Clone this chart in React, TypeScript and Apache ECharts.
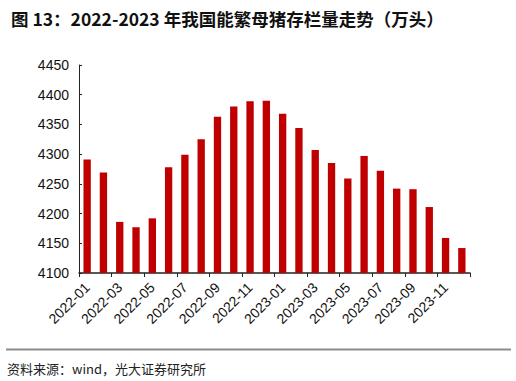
import React, { useEffect, useRef } from "react";
import * as echarts from "echarts";

const categories = [
  "2022-01", "2022-02", "2022-03", "2022-04", "2022-05", "2022-06",
  "2022-07", "2022-08", "2022-09", "2022-10", "2022-11", "2022-12",
  "2023-01", "2023-02", "2023-03", "2023-04", "2023-05", "2023-06",
  "2023-07", "2023-08", "2023-09", "2023-10", "2023-11", "2023-12",
];
const sowStock = [
  4291, 4269, 4186, 4177, 4192, 4278, 4299, 4325, 4363, 4380, 4389, 4390,
  4368, 4344, 4307, 4285, 4259, 4297, 4272, 4242, 4241, 4211, 4159, 4142,
];
const titleText = "图 13：2022-2023 年我国能繁母猪存栏量走势（万头）";
const sourceText = "资料来源：wind，光大证券研究所";

export default function App() {
  const ref = useRef<HTMLDivElement>(null);
  useEffect(() => {
    if (!ref.current) return;
    const chart = echarts.init(ref.current, null, { renderer: "svg" });
    chart.setOption({
      animation: false,
      backgroundColor: "#ffffff",
      title: {
        text: titleText,
        left: 6,
        top: 5,
        textStyle: {
          fontFamily: "Noto Sans CJK SC",
          fontSize: 17.5,
          fontWeight: "bold",
          color: "#111111",
        },
      },
      grid: { left: 79, right: 46, top: 65, bottom: 108, containLabel: false },
      xAxis: {
        type: "category",
        data: categories,
        boundaryGap: true,
        axisLine: { show: true, lineStyle: { color: "#222222", width: 1.5 } },
        axisTick: { show: true, interval: 1, length: 4, inside: false, lineStyle: { color: "#222222" } },
        axisLabel: {
          interval: 1,
          rotate: 45,
          margin: 12,
          fontSize: 14,
          fontFamily: "Liberation Sans",
          color: "#111111",
        },
        splitLine: { show: false },
      },
      yAxis: {
        type: "value",
        min: 4100,
        max: 4450,
        interval: 50,
        axisLine: { show: true, lineStyle: { color: "#222222", width: 1 } },
        axisTick: { show: true, inside: true, length: 3, lineStyle: { color: "#222222" } },
        axisLabel: {
          fontSize: 14,
          fontFamily: "Liberation Sans",
          color: "#111111",
          margin: 10,
          formatter: (v: number) => String(v),
        },
        splitLine: { show: false },
      },
      series: [
        {
          type: "bar",
          data: sowStock,
          barWidth: "45%",
          itemStyle: { color: "#C00000" },
        },
      ],
      graphic: [
        {
          type: "line",
          shape: { x1: 6, y1: 349.5, x2: 511, y2: 349.5 },
          style: { stroke: "#8c8c8c", lineWidth: 2 },
        },
        {
          type: "text",
          left: 7,
          top: 362,
          style: {
            text: sourceText,
            fontSize: 13,
            fontFamily: "Noto Sans CJK SC",
            fill: "#222222",
          },
        },
      ],
    });
    return () => chart.dispose();
  }, []);
  return (
    <div
      ref={ref}
      style={{ position: "fixed", left: 0, top: 0, width: 516, height: 381 }}
    />
  );
}
